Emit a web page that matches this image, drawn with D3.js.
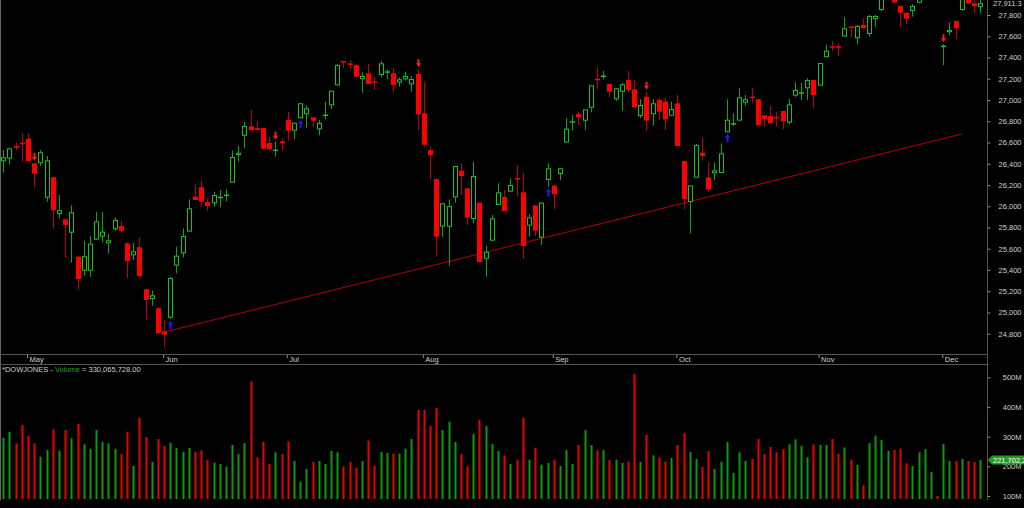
<!DOCTYPE html>
<html>
<head>
<meta charset="utf-8">
<script src="https://cdn.jsdelivr.net/npm/d3@7"></script>
<style>
    html, body { margin: 0; padding: 0; background: #000; overflow: hidden; }
    svg { display: block; font-family: "Liberation Sans", Arial, sans-serif; }
</style>
</head>
<body>
<div id="chart"></div>
<script>
// daily candles, index 0 = last days of April
var opens = [
    26423, 26448, 26567, 26598, 26636, 26404, 26404, 26080, 26272, 25927,
    25877, 25751, 25525, 25393, 25393, 25686, 25714, 25651, 25783, 25814,
    25651, 25538, 25614, 25218, 25127, 25040, 24823, 24951, 25441, 25557,
    25761, 26090, 26178, 26040, 26028, 26082, 26100, 26222, 26482, 26664,
    26752, 26734, 26736, 26595, 26525, 26611, 26812, 26711, 26828, 26866,
    26837, 26724, 26855, 26950, 27138, 27366, 27345, 27327, 27195, 27251,
    27176, 27235, 27262, 27251, 27164, 27195, 27148, 27245, 26875, 26529,
    26256, 25808, 25808, 26084, 26335, 26169, 25880, 26034, 25506, 25676,
    26012, 26087, 26137, 26266, 26131, 25818, 26009, 25704, 26247, 26194,
    26304, 26599, 26790, 26868, 26805, 26928, 27200, 27222, 27151, 27007,
    27078, 27188, 27100, 26849, 27031, 26866, 27000, 26984, 26852, 26969,
    26426, 26040, 26269, 26504, 26272, 26310, 26313, 26696, 26772, 26806,
    26975, 27032, 27007, 26856, 26849, 26841, 26896, 26787, 27041, 27065,
    27110, 27188, 27135, 27402, 27506, 27506, 27597, 27692, 27581, 27706,
    27621, 27760, 27847, 27960, 27960, 27884, 27821, 27837, 27916, 28020,
    28070, 28110, 27500, 27638, 27744, 27847, 27960, 27910, 27873
];
var highs = [
    26529, 26550, 26598, 26687, 26687, 26410, 26529, 26473, 26280, 26106,
    25880, 26009, 25530, 25676, 25720, 25946, 25946, 25739, 25896, 25864,
    25660, 25657, 25708, 25225, 25205, 25045, 24929, 25335, 25620, 25792,
    26065, 26207, 26241, 26075, 26137, 26153, 26160, 26523, 26567, 26796,
    26906, 26802, 26740, 26655, 26608, 26633, 26890, 26786, 26969, 26947,
    26840, 26812, 26984, 27088, 27339, 27366, 27376, 27339, 27261, 27339,
    27220, 27367, 27289, 27298, 27214, 27267, 27226, 27290, 27173, 26561,
    26260, 26028, 26065, 26379, 26404, 26172, 26416, 26034, 25626, 25918,
    26216, 26153, 26263, 26388, 26316, 25927, 26012, 26034, 26404, 26197,
    26357, 26828, 26859, 26890, 26912, 27138, 27308, 27273, 27151, 27110,
    27163, 27273, 27188, 27007, 27078, 27007, 27016, 27016, 26984, 27047,
    26430, 26197, 26586, 26649, 26414, 26414, 26592, 27007, 26875, 27110,
    27047, 27110, 27007, 26856, 26944, 26890, 26896, 27009, 27167, 27163,
    27204, 27188, 27348, 27518, 27559, 27534, 27779, 27696, 27706, 27769,
    27800, 27800, 28010, 28060, 28000, 27895, 27821, 27903, 28020, 28090,
    28150, 28130, 27524, 27728, 27744, 28030, 28000, 27950, 27950
];
var lows = [
    26316, 26391, 26529, 26419, 26420, 26178, 26379, 26043, 25789, 25887,
    25519, 25469, 25218, 25346, 25337, 25686, 25657, 25557, 25770, 25751,
    25322, 25494, 25341, 24936, 25064, 24800, 24672, 24940, 25369, 25516,
    25761, 26059, 25996, 25958, 25996, 25990, 26047, 26222, 26419, 26545,
    26715, 26715, 26536, 26529, 26467, 26523, 26617, 26633, 26828, 26739,
    26749, 26668, 26818, 26915, 27138, 27301, 27289, 27220, 27069, 27151,
    27094, 27214, 27195, 27069, 27125, 27182, 27078, 26718, 26561, 26254,
    25525, 25713, 25438, 26034, 26103, 25824, 25839, 25475, 25337, 25676,
    26012, 25955, 26137, 26096, 25504, 25713, 25720, 25635, 26184, 25974,
    26247, 26599, 26711, 26765, 26718, 26884, 27104, 27195, 27031, 26993,
    26899, 27072, 26931, 26828, 26711, 26758, 26812, 26718, 26852, 26567,
    25971, 25745, 26269, 26429, 26137, 26247, 26313, 26696, 26755, 26806,
    26944, 26975, 26765, 26749, 26781, 26749, 26724, 26771, 27031, 27000,
    27000, 26922, 27135, 27402, 27461, 27417, 27597, 27590, 27524, 27675,
    27597, 27691, 27840, 27950, 27908, 27684, 27715, 27784, 27910, 27990,
    28040, 28030, 27329, 27612, 27571, 27840, 27905, 27808, 27816
];
var closes = [
    26461, 26545, 26551, 26589, 26426, 26307, 26508, 26432, 25962, 25962,
    25824, 25943, 25315, 25529, 25648, 25858, 25761, 25680, 25871, 25770,
    25485, 25576, 25341, 25118, 25162, 24804, 24791, 25325, 25535, 25720,
    25981, 26059, 26043, 26002, 26106, 26090, 26110, 26464, 26504, 26755,
    26715, 26718, 26542, 26536, 26533, 26592, 26711, 26786, 26969, 26922,
    26805, 26784, 26863, 27088, 27329, 27360, 27332, 27220, 27226, 27151,
    27170, 27345, 27270, 27141, 27195, 27226, 27198, 26865, 26579, 26479,
    25713, 26028, 26002, 26379, 26285, 25892, 26285, 25475, 25572, 25886,
    26131, 25955, 26200, 26260, 25626, 25896, 25770, 26034, 26357, 26113,
    26357, 26730, 26800, 26837, 26912, 27138, 27190, 27230, 27078, 27110,
    27148, 27094, 26931, 26953, 26806, 26969, 26890, 26818, 26915, 26567,
    26068, 26197, 26576, 26473, 26157, 26338, 26498, 26815, 26782, 27025,
    27007, 27024, 26765, 26821, 26781, 26833, 26800, 26959, 27094, 27073,
    27188, 27047, 27348, 27464, 27498, 27498, 27675, 27688, 27697, 27675,
    27791, 27791, 27990, 28040, 27918, 27821, 27765, 27884, 27990, 28070,
    28120, 28050, 27512, 27659, 27675, 28015, 27909, 27884, 27911.3
];
// volume in millions of shares
var volumes = [
    296.6, 316.8, 277.7, 339.4, 302.3, 277.7, 232.6, 255.0, 325.0, 252.8,
    322.5, 294.6, 342.8, 274.4, 259.5, 322.5, 282.1, 277.7, 259.5, 241.7,
    316.8, 201.2, 364.0, 299.0, 214.7, 292.2, 268.6, 279.7, 261.9, 248.4,
    261.9, 248.4, 254.1, 221.4, 212.3, 208.0, 198.9, 272.0, 241.7, 278.7,
    486.7, 230.5, 282.1, 208.0, 247.4, 241.7, 284.4, 218.0, 148.3, 191.1,
    214.7, 218.0, 208.0, 251.8, 247.4, 200.2, 214.7, 195.5, 218.0, 286.5,
    201.2, 248.4, 245.0, 242.7, 242.7, 259.5, 292.2, 390.0, 390.0, 336.0,
    397.7, 322.5, 350.5, 282.1, 241.7, 200.2, 309.0, 356.3, 336.0, 275.4,
    251.8, 237.2, 208.0, 222.6, 364.0, 222.6, 262.9, 205.6, 211.3, 222.6,
    201.2, 255.1, 208.0, 272.0, 322.5, 272.0, 254.1, 255.1, 221.4, 222.6,
    211.3, 215.8, 511.3, 214.7, 306.7, 237.2, 230.5, 215.8, 228.2, 272.0,
    312.4, 248.4, 224.8, 197.8, 251.8, 191.1, 215.8, 282.1, 177.6, 247.4,
    218.0, 224.8, 292.2, 241.7, 265.3, 247.4, 258.5, 274.4, 291.2, 269.6,
    230.5, 274.4, 272.0, 272.0, 292.2, 242.7, 264.2, 222.6, 204.6, 136.2,
    278.7, 303.3, 288.8, 251.8, 255.1, 259.5, 210.3, 201.2, 247.4, 258.5,
    181.0, 100.1, 275.4, 218.0, 218.0, 224.8, 218.0, 214.7, 221.7
];

// first candle of each month
var monthLabels = ["May", "Jun", "Jul", "Aug", "Sep", "Oct", "Nov", "Dec"];
var monthStarts = [4, 26, 46, 68, 89, 109, 132, 152];

var priceTicks = [24800, 25000, 25200, 25400, 25600, 25800, 26000, 26200, 26400,
    26600, 26800, 27000, 27200, 27400, 27600, 27800];
var volumeTicks = [100, 200, 300, 400, 500];

// signal arrows (candle index)
var sellSignals = [5, 44, 67, 104, 152];
var buySignals = [27, 48, 88, 117];

// trend line anchors
var trendIndex = [26, 155];
var trendPrice = [24815, 26680];

var lastPriceText = "27,911.3";
var lastVolumeText = "221,702,240";
var volumeValueText = " = 330,065,728.00";

(function () {
    var width = 1024, height = 508;
    var axisX = 987;
    var priceBottom = 354;
    var fontSize = "7.5px";

    var n = closes.length;
    var candles = d3.range(n).map(function (i) {
        return { i: i, o: opens[i], h: highs[i], l: lows[i], c: closes[i], v: volumes[i] * 1e6,
                 up: closes[i] >= opens[i] };
    });

    var x = d3.scaleBand().domain(d3.range(n)).range([0.2, 983.5])
        .paddingInner(0.25).paddingOuter(0.125);
    function cx(i) { return x(i) + x.bandwidth() / 2; }
    function left(i) { return Math.round(cx(i)) - 2; }

    var y = d3.scaleLinear().domain([24800, 27800]).range([333.75, 15]);
    var yv = d3.scaleLinear().domain([90e6, 600e6]).range([499, 347.7]);

    var green = "#1fbf1f", greenWick = "#10a510";
    var red = "#ff0000", redWick = "#c00000";
    var textColor = "#d0d0d0", lineColor = "#555";

    var svg = d3.select("#chart").append("svg")
        .attr("width", width)
        .attr("height", height);

    svg.append("rect").attr("width", width).attr("height", height).attr("fill", "#000");

    var defs = svg.append("defs");
    defs.append("clipPath").attr("id", "priceClip")
        .append("rect").attr("x", 0).attr("y", 0).attr("width", axisX).attr("height", priceBottom);

    // frame lines
    svg.append("line").attr("x1", 0.5).attr("x2", 0.5).attr("y1", 0).attr("y2", 500)
        .attr("stroke", "#666");
    svg.append("line").attr("x1", axisX + 0.5).attr("x2", axisX + 0.5).attr("y1", 0).attr("y2", 500)
        .attr("stroke", lineColor);
    [354.5, 364.5].forEach(function (yy) {
        svg.append("line").attr("x1", 0).attr("x2", axisX).attr("y1", yy).attr("y2", yy)
            .attr("stroke", lineColor);
    });

    // price pane
    var price = svg.append("g").attr("clip-path", "url(#priceClip)");

    price.append("line")
        .attr("x1", cx(trendIndex[0])).attr("y1", y(trendPrice[0]))
        .attr("x2", cx(trendIndex[1])).attr("y2", y(trendPrice[1]))
        .attr("stroke", "#b00000").attr("stroke-width", 1);

    price.selectAll("line.wick")
        .data(candles)
        .enter()
        .append("line")
        .attr("class", "wick")
        .attr("x1", function (d) { return left(d.i) + 2.5; })
        .attr("x2", function (d) { return left(d.i) + 2.5; })
        .attr("y1", function (d) { return y(d.h); })
        .attr("y2", function (d) { return y(d.l); })
        .attr("stroke", function (d) { return d.up ? greenWick : redWick; });

    price.selectAll("rect.body")
        .data(candles)
        .enter()
        .append("rect")
        .attr("class", "body")
        .attr("x", function (d) { return d.up ? left(d.i) + 0.5 : left(d.i); })
        .attr("width", function (d) { return d.up ? 4 : 5; })
        .attr("y", function (d) { return y(Math.max(d.o, d.c)) + (d.up ? 0.5 : 0); })
        .attr("height", function (d) {
            var hgt = Math.abs(y(d.o) - y(d.c));
            return d.up ? Math.max(hgt - 1, 0.5) : Math.max(hgt, 1.5);
        })
        .attr("fill", function (d) { return d.up ? "#000" : red; })
        .attr("stroke", function (d) { return d.up ? green : "none"; })
        .attr("stroke-width", 1);

    // signal arrows
    price.selectAll("path.sell")
        .data(sellSignals)
        .enter()
        .append("path")
        .attr("class", "sell")
        .attr("d", function (i) {
            var c = left(i) + 2.5, t = y(highs[i]) - 2;
            return "M" + (c - 1) + "," + (t - 8) + "H" + (c + 1) + "V" + (t - 4) + "H" + (c + 2.5) +
                "L" + c + "," + t + "L" + (c - 2.5) + "," + (t - 4) + "H" + (c - 1) + "Z";
        })
        .attr("fill", "#ff1a1a");

    price.selectAll("path.buy")
        .data(buySignals)
        .enter()
        .append("path")
        .attr("class", "buy")
        .attr("d", function (i) {
            var c = left(i) + 2.5, t = y(lows[i]) + 1.5;
            return "M" + (c - 1) + "," + (t + 8.5) + "H" + (c + 1) + "V" + (t + 4) + "H" + (c + 2.5) +
                "L" + c + "," + t + "L" + (c - 2.5) + "," + (t + 4) + "H" + (c - 1) + "Z";
        })
        .attr("fill", "#1a1aff");

    // price axis
    var pAxis = svg.append("g")
        .attr("transform", "translate(" + (axisX + 0.5) + ",0)")
        .call(d3.axisRight(y).tickValues(priceTicks).tickSize(3).tickFormat(d3.format(",")));
    pAxis.select(".domain").remove();
    pAxis.selectAll(".tick line").attr("stroke", "#888");
    pAxis.selectAll(".tick text")
        .attr("x", 34).attr("text-anchor", "end")
        .attr("fill", textColor).style("font-size", fontSize);

    svg.append("text")
        .attr("x", 993).attr("y", y(closes[n - 1]))
        .attr("dy", "0.35em")
        .attr("fill", textColor).style("font-size", fontSize)
        .text(lastPriceText);

    // month axis
    var mAxis = svg.append("g")
        .attr("transform", "translate(0,355)")
        .call(d3.axisBottom(x).tickValues(monthStarts).tickSize(3)
            .tickFormat(function (d) { return monthLabels[monthStarts.indexOf(d)]; }));
    mAxis.select(".domain").remove();
    mAxis.selectAll(".tick line").attr("stroke", "#999")
        .attr("transform", "translate(-0.5,0)");
    mAxis.selectAll(".tick text")
        .attr("y", 4.5).attr("dy", "0.35em").attr("x", 1.5)
        .attr("text-anchor", "start")
        .attr("fill", textColor).style("font-size", fontSize);

    // volume pane
    var title = svg.append("text").attr("x", 2).attr("y", 369.5).attr("dy", "0.35em")
        .style("font-size", fontSize).attr("fill", textColor);
    title.append("tspan").text("*DOWJONES - ");
    title.append("tspan").attr("fill", "#17a317").text("Volume");
    title.append("tspan").text(volumeValueText);

    svg.selectAll("rect.vol")
        .data(candles)
        .enter()
        .append("rect")
        .attr("class", "vol")
        .attr("x", function (d) { return left(d.i) + 1.5; })
        .attr("width", 2)
        .attr("y", function (d) { return yv(d.v); })
        .attr("height", function (d) { return yv(90e6) - yv(d.v); })
        .attr("fill", function (d) { return d.up ? "#0c9a0c" : "#ea0000"; });

    var vAxis = svg.append("g")
        .attr("transform", "translate(" + (axisX + 0.5) + ",0)")
        .call(d3.axisRight(yv).tickValues(volumeTicks.map(function (d) { return d * 1e6; }))
            .tickSize(3).tickFormat(function (d) { return (d / 1e6) + "M"; }));
    vAxis.select(".domain").remove();
    vAxis.selectAll(".tick line").attr("stroke", "#888");
    vAxis.selectAll(".tick text")
        .attr("x", 34).attr("text-anchor", "end")
        .attr("fill", textColor).style("font-size", fontSize);

    // last volume flag
    var vy = yv(volumes[n - 1] * 1e6);
    svg.append("path")
        .attr("d", "M" + (axisX + 1) + "," + vy + "L" + (axisX + 5) + "," + (vy - 4.5) + "H" + width +
            "V" + (vy + 4.5) + "H" + (axisX + 5) + "Z")
        .attr("fill", "#1f9e1f");
    svg.append("text")
        .attr("x", 993).attr("y", vy).attr("dy", "0.35em")
        .attr("fill", "#fff").style("font-size", fontSize)
        .text(lastVolumeText);
})();
</script>
</body>
</html>
